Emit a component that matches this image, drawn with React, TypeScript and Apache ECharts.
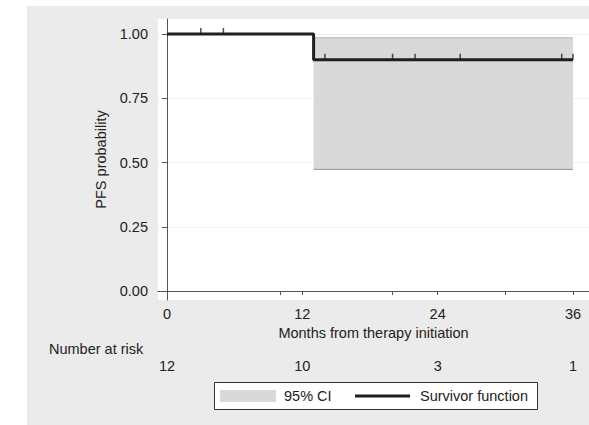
import React, { useEffect, useRef } from "react";
import * as echarts from "echarts";

// Kaplan–Meier survivor function
const kmTimes = [0, 13, 36];
const kmSurvival = [1, 0.9, 0.9];

// 95% confidence band (step boundaries and bounds)
const ciTimes = [13, 36];
const ciLower = [0.4733, 0.4733];
const ciUpper = [0.9853, 0.9853];

// Censoring marks
const censorTimes = [3, 5, 14, 20, 22, 26, 35, 36];
const censorSurvival = [1, 1, 0.9, 0.9, 0.9, 0.9, 0.9, 0.9];

// Number at risk
const riskTimes = [0, 12, 24, 36];
const riskCounts = [12, 10, 3, 1];

// Axis ticks
const yTickValues = [0, 0.25, 0.5, 0.75, 1];
const xLabelValues = [0, 12, 24, 36];
const xTickValues = [0, 10, 12, 20, 24, 30, 36];

const FONT = "Liberation Sans, Arial, Helvetica, sans-serif";
const FS = 14.5;
const TEXT = "#222222";
const BAND = "#d9d9d9";
const LINE = "#1e1e1e";

export default function App() {
  const ref = useRef<HTMLDivElement>(null);

  useEffect(() => {
    document.body.style.margin = "0";
    if (!ref.current) return;
    const chart = echarts.init(ref.current, undefined, { renderer: "svg" });

    const kmData = kmTimes.map((t, i) => [t, kmSurvival[i]]);
    const bandData: number[][] = [];
    for (let i = 0; i < ciTimes.length - 1; i++) {
      bandData.push([ciTimes[i], ciTimes[i + 1], ciLower[i], ciUpper[i]]);
    }
    const censorData = censorTimes.map((t, i) => [t, censorSurvival[i]]);

    chart.setOption({
      animation: false,
      backgroundColor: "#ffffff",
      textStyle: { fontFamily: FONT },
      graphic: [
        {
          type: "rect",
          left: 27,
          top: 6,
          z: -10,
          silent: true,
          shape: { width: 562, height: 419 },
          style: { fill: "#ebebeb" },
        },
        {
          type: "text",
          left: 49,
          top: 341,
          silent: true,
          style: { text: "Number at risk", fill: TEXT, font: `${FS}px ${FONT}` },
        },
        {
          type: "group",
          left: 214,
          top: 382,
          silent: true,
          children: [
            {
              type: "rect",
              shape: { x: 0.5, y: 0.5, width: 323, height: 27 },
              style: { fill: "#ffffff", stroke: "#333333", lineWidth: 1 },
            },
            {
              type: "rect",
              shape: { x: 6, y: 8, width: 56, height: 12 },
              style: { fill: BAND },
            },
            {
              type: "text",
              x: 70,
              y: 14,
              style: {
                text: "95% CI",
                fill: TEXT,
                font: `${FS}px ${FONT}`,
                verticalAlign: "middle",
              },
            },
            {
              type: "line",
              shape: { x1: 141, y1: 14, x2: 196, y2: 14 },
              style: { stroke: LINE, lineWidth: 3 },
            },
            {
              type: "text",
              x: 206,
              y: 14,
              style: {
                text: "Survivor function",
                fill: TEXT,
                font: `${FS}px ${FONT}`,
                verticalAlign: "middle",
              },
            },
          ],
        },
      ],
      grid: {
        left: 158,
        right: 0,
        top: 19,
        bottom: 125,
        show: true,
        backgroundColor: "#ffffff",
        borderWidth: 0,
        containLabel: false,
      },
      xAxis: [
        {
          type: "value",
          min: -0.798,
          max: 37.42,
          axisLine: { show: true, lineStyle: { color: "#555555", width: 1 } },
          axisTick: {
            show: true,
            length: 4,
            customValues: xTickValues,
            lineStyle: { color: "#555555" },
          },
          axisLabel: {
            customValues: xLabelValues,
            margin: 6,
            color: TEXT,
            fontSize: FS,
            fontFamily: FONT,
          },
          splitLine: { show: false },
          name: "Months from therapy initiation",
          nameLocation: "middle",
          nameGap: 23,
          nameTextStyle: { color: TEXT, fontSize: FS, fontFamily: FONT, verticalAlign: "top" },
        },
        {
          type: "value",
          min: -0.798,
          max: 37.42,
          position: "bottom",
          offset: 52,
          axisLine: { show: false },
          axisTick: { show: false },
          axisLabel: {
            customValues: riskTimes,
            margin: 6,
            color: TEXT,
            fontSize: FS,
            fontFamily: FONT,
            formatter: (v: number) => {
              const i = riskTimes.indexOf(v);
              return i >= 0 ? String(riskCounts[i]) : "";
            },
          },
          splitLine: { show: false },
        },
      ],
      yAxis: {
        type: "value",
        min: -0.035,
        max: 1.0584,
        axisLine: { show: true, lineStyle: { color: "#555555", width: 1 } },
        axisTick: {
          show: true,
          length: 5,
          customValues: yTickValues,
          lineStyle: { color: "#555555" },
        },
        axisLabel: {
          customValues: yTickValues,
          margin: 10,
          color: TEXT,
          fontSize: FS,
          fontFamily: FONT,
          formatter: (v: number) => v.toFixed(2),
        },
        splitLine: { show: true, lineStyle: { color: "#f1f1f1", width: 1 } },
        name: "PFS probability",
        nameLocation: "middle",
        nameGap: 48,
        nameTextStyle: { color: TEXT, fontSize: FS, fontFamily: FONT },
      },
      series: [
        {
          name: "95% CI",
          type: "custom",
          data: bandData,
          encode: { x: [0, 1], y: [2, 3] },
          silent: true,
          z: 2,
          renderItem: (params: any, api: any) => {
            const pLo = api.coord([api.value(0), api.value(2)]);
            const pHi = api.coord([api.value(1), api.value(3)]);
            const x0 = pLo[0];
            const x1 = pHi[0];
            const yTop = pHi[1];
            const yBot = pLo[1];
            return {
              type: "group",
              children: [
                {
                  type: "rect",
                  shape: { x: x0, y: yTop, width: x1 - x0, height: yBot - yTop },
                  style: { fill: BAND },
                },
                {
                  type: "line",
                  shape: { x1: x0, y1: yTop, x2: x1, y2: yTop },
                  style: { stroke: "#b3b3b3", lineWidth: 1 },
                },
                {
                  type: "line",
                  shape: { x1: x0, y1: yBot, x2: x1, y2: yBot },
                  style: { stroke: "#8f8f8f", lineWidth: 1 },
                },
              ],
            };
          },
        },
        {
          name: "Survivor function",
          type: "line",
          step: "end",
          data: kmData,
          symbol: "none",
          showSymbol: false,
          silent: true,
          itemStyle: { color: LINE },
          lineStyle: { color: LINE, width: 3 },
          z: 4,
        },
        {
          name: "censored",
          type: "scatter",
          data: censorData,
          symbol: "rect",
          symbolSize: [1.5, 6],
          symbolOffset: [0, -3],
          silent: true,
          itemStyle: { color: LINE },
          z: 5,
        },
      ],
    });

    return () => chart.dispose();
  }, []);

  return <div ref={ref} style={{ width: 589, height: 425 }} />;
}
